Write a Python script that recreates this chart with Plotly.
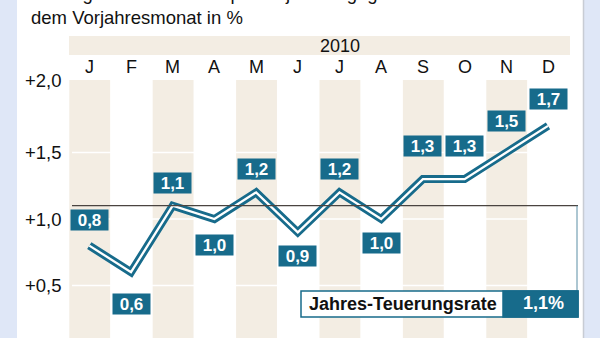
import plotly.graph_objects as go

# ---------------- data ----------------
months = ["J", "F", "M", "A", "M", "J", "J", "A", "S", "O", "N", "D"]
values = [0.8, 0.6, 1.1, 1.0, 1.2, 0.9, 1.2, 1.0, 1.3, 1.3, 1.5, 1.7]
value_labels = ["0,8", "0,6", "1,1", "1,0", "1,2", "0,9", "1,2", "1,0", "1,3", "1,3", "1,5", "1,7"]
ytick_vals = [2.0, 1.5, 1.0, 0.5]
ytick_text = ["+2,0", "+1,5", "+1,0", "+0,5"]
year_label = "2010"
annual_rate = 1.1
annual_label = "1,1%"
annual_title = "Jahres-Teuerungsrate"
title_lines = ["Anstieg der Verbraucherpreise jeweils gegenüber", "dem Vorjahresmonat in %"]

# ---------------- style ----------------
TEAL = "#176b8b"
BEIGE = "#f3ede3"
BLUE = "#dfe7f7"
FONT = "Liberation Sans, Arial, sans-serif"
W, H = 600, 338
X0, DX = 89.3, 41.7     # pixel of index 0, pixels per month
Y1, DY = 219.0, 133.0   # pixel of value 1.0, pixels per unit
xr = [-X0 / DX, (W - X0) / DX]
yr = [1 - (H - Y1) / DY, 1 + Y1 / DY]

def ux(px):
    return (px - X0) / DX

def uy(py):
    return 1 + (Y1 - py) / DY

x = list(range(len(months)))
offs = [-26, 32, -23, 26, -23, 24, -23, 24, -33, -33, -32, -27]

shapes = []
shapes.append(dict(type="rect", xref="paper", yref="paper", x0=0, x1=17 / W, y0=0, y1=1,
                   fillcolor=BLUE, line_width=0, layer="below"))
shapes.append(dict(type="rect", xref="paper", yref="paper", x0=584 / W, x1=1, y0=0, y1=1,
                   fillcolor=BLUE, line_width=0, layer="below"))
shapes.append(dict(type="line", xref="paper", yref="paper", x0=583.5 / W, x1=583.5 / W, y0=0, y1=1,
                   line=dict(color="#c8ccd4", width=1.5), layer="below"))
shapes.append(dict(type="rect", x0=ux(69), x1=ux(570), y0=uy(55), y1=uy(36),
                   fillcolor=BEIGE, line_width=0, layer="below"))
for i in range(0, 12, 2):
    shapes.append(dict(type="rect", x0=i - 0.48, x1=i + 0.5, y0=yr[0], y1=uy(80),
                       fillcolor=BEIGE, line_width=0, layer="below"))
for v in ytick_vals[1:]:
    shapes.append(dict(type="line", x0=ux(72), x1=ux(578), y0=v, y1=v,
                       line=dict(color="white", width=1.5), layer="below"))
shapes.append(dict(type="line", x0=ux(72), x1=ux(578), y0=annual_rate, y1=annual_rate,
                   line=dict(color="#4a4440", width=1.3)))
shapes.append(dict(type="line", x0=ux(577), x1=ux(577), y0=annual_rate, y1=uy(291),
                   line=dict(color="#5a8ea5", width=1)))
shapes.append(dict(type="rect", x0=ux(301), x1=ux(578), y0=uy(317), y1=uy(291),
                   fillcolor="white", line=dict(color=TEAL, width=1.5)))
shapes.append(dict(type="rect", x0=ux(503), x1=ux(578), y0=uy(317), y1=uy(291),
                   fillcolor=TEAL, line=dict(color=TEAL, width=1.5)))

for xi, v, o in zip(x, values, offs):
    py = Y1 - (v - 1) * DY
    sgn = 1 if o > 0 else -1
    box_edge = py + o - sgn * 10
    tip = box_edge + sgn * 6
    px = X0 + xi * DX
    shapes.append(dict(type="path",
                       path=f"M {ux(px-5)} {uy(box_edge)} L {ux(px+5)} {uy(box_edge)} L {ux(px)} {uy(tip)} Z",
                       fillcolor=TEAL, line_width=0))

fig = go.Figure()
fig.add_trace(go.Scatter(x=x, y=values, mode="lines",
                         line=dict(color=TEAL, width=8), hoverinfo="skip"))
fig.add_trace(go.Scatter(x=x, y=values, mode="lines",
                         line=dict(color="white", width=2.3), hoverinfo="skip"))

ann = []
ann.append(dict(xref="paper", yref="paper", x=29 / W, y=1 + 6 / H, text=title_lines[0],
                showarrow=False, xanchor="left", yanchor="middle",
                font=dict(family=FONT, size=18.5, color="#111")))
ann.append(dict(xref="paper", yref="paper", x=29 / W, y=1 - 17 / H, text=title_lines[1],
                showarrow=False, xanchor="left", yanchor="middle",
                font=dict(family=FONT, size=18.5, color="#111")))
ann.append(dict(x=6, y=uy(45.5), text=year_label, showarrow=False,
                font=dict(family=FONT, size=18, color="#111")))
for xi, m in zip(x, months):
    ann.append(dict(x=xi, y=uy(67), text=m, showarrow=False,
                    font=dict(family=FONT, size=18, color="#111")))
for v, t in zip(ytick_vals, ytick_text):
    yy = v if v < 2 else uy(80)
    ann.append(dict(x=ux(64), y=yy, text=t, showarrow=False, xanchor="right",
                    font=dict(family=FONT, size=18.5, color="#111")))
for xi, v, t, o in zip(x, values, value_labels, offs):
    py = Y1 - (v - 1) * DY + o
    ann.append(dict(x=xi, y=uy(py), text=f"<b>{t}</b>", showarrow=False,
                    bgcolor=TEAL, borderpad=0, width=37, height=20,
                    font=dict(family=FONT, size=17, color="white")))
ann.append(dict(x=ux(307), y=uy(304), text=f"<b>{annual_title}</b>", showarrow=False,
                xanchor="left", font=dict(family=FONT, size=18, color="#111")))
ann.append(dict(x=ux(543), y=uy(303), text=f"<b>{annual_label}</b>", showarrow=False,
                font=dict(family=FONT, size=18, color="white")))

fig.update_layout(
    width=W, height=H, margin=dict(l=0, r=0, t=0, b=0),
    paper_bgcolor="white", plot_bgcolor="white",
    showlegend=False, shapes=shapes, annotations=ann,
    xaxis=dict(range=xr, visible=False, fixedrange=True),
    yaxis=dict(range=yr, visible=False, fixedrange=True),
)
fig.write_html("out.html")
